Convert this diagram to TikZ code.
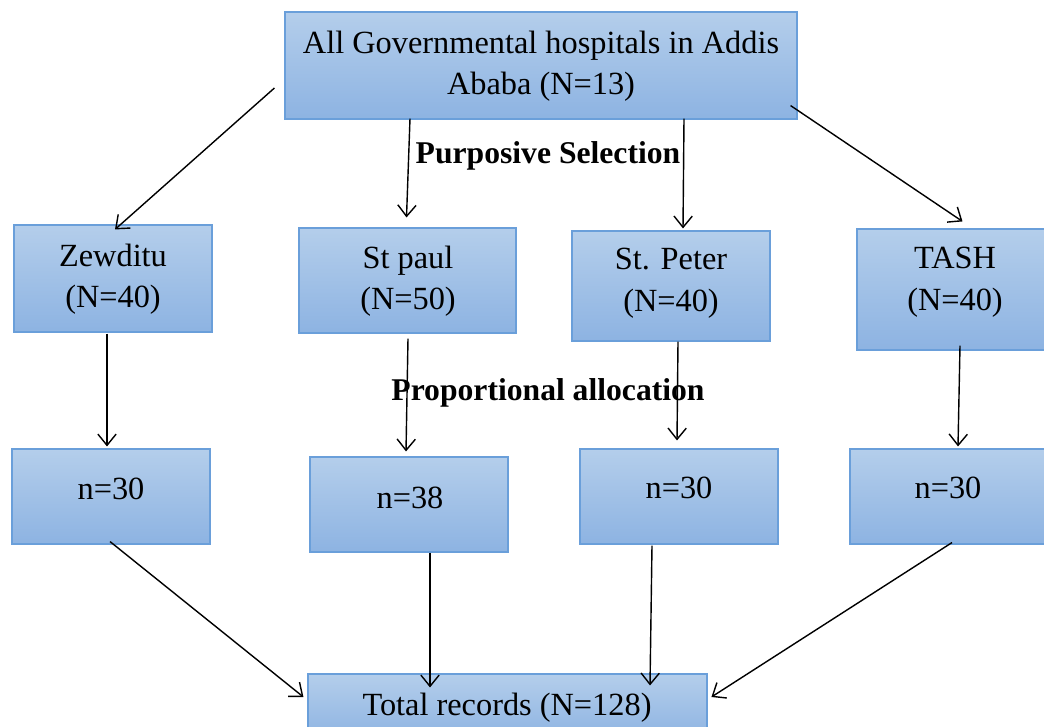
\documentclass[tikz,border=0pt]{standalone}
\usepackage{fontspec}
\setmainfont{Liberation Serif}
\usetikzlibrary{arrows.meta,fit,calc}
\definecolor{boxtop}{HTML}{B4CEEB}
\definecolor{boxbot}{HTML}{8DB3E2}
\definecolor{boxline}{HTML}{6A9FDA}
\tikzset{
  box/.style={draw=boxline,line width=0.8pt,top color=boxtop,bottom color=boxbot,inner sep=0pt,rectangle},
  txt/.style={align=center,font=\fontsize{23}{29.5}\selectfont,inner sep=0pt},
  lbl/.style={font=\fontsize{22.5}{26}\selectfont\bfseries,inner sep=0pt},
  arr/.style={draw=black,line width=1pt,-{Straight Barb[length=8pt,width=13pt,line width=1pt]}}
}
\begin{document}
\begin{tikzpicture}[x=0.025cm,y=-0.025cm]
\useasboundingbox (0,0) rectangle (1044,727);
% boxes
\node[box,fit={(285,12) (797,119)}] (top) {};
\node[box,fit={(14,225) (212,332)}] (zew) {};
\node[box,fit={(299,228) (516,333)}] (paul) {};
\node[box,fit={(572,231) (770,341)}] (peter) {};
\node[box,fit={(857,229) (1050,350)}] (tash) {};
\node[box,fit={(12,449) (210,544)}] (na) {};
\node[box,fit={(310,457) (508,552)}] (nb) {};
\node[box,fit={(580,449) (778,544)}] (nc) {};
\node[box,fit={(850,449) (1050,544)}] (nd) {};
\node[box,fit={(308,674) (707,740)}] (total) {};
% texts
\node[txt] (topt) at (541,66) {All Governmental hospitals in Addis\\Ababa (N=13)};
\node[txt] (zewt) at (113,279) {Zewditu\\(N=40)};
\node[txt] (pault) at (408,281) {St paul\\(N=50)};
\node[txt] (petert) at (671,283) {St. Peter\\(N=40)};
\node[txt] (tasht) at (955,282) {TASH\\(N=40)};
\node[txt] (nat) at (111,489) {n=30};
\node[txt] (nbt) at (410,498) {n=38};
\node[txt] (nct) at (679,488) {n=30};
\node[txt] (ndt) at (948,488) {n=30};
\node[txt] (totalt) at (507,708) {Total records (N=128)};
\node[lbl] (purp) at (548,156) {Purposive Selection};
\node[lbl] (prop) at (548,393) {Proportional allocation};
% arrows top -> hospitals
\draw[arr] ($(top.west)+(-10,22.5)$) -- ($(zew.north)+(2,5)$);
\draw[arr] ($(top.south)+(-131,-1)$) -- ($(paul.north)+(-1,-10)$);
\draw[arr] ($(top.south)+(143,-1)$) -- ($(peter.north)+(12,-2)$);
\draw[arr] ($(top.south east)+(-7,-14)$) -- ($(tash.north)+(9,-7)$);
% hospitals -> samples
\draw[arr] ($(zew.south)+(-6,1)$) -- ($(na.north)+(-4,-2)$);
\draw[arr] ($(paul.south)+(0.5,5)$) -- ($(nb.north)+(-3,-5)$);
\draw[arr] ($(peter.south)+(7,0)$) -- ($(nc.north)+(-2,-8)$);
\draw[arr] ($(tash.south)+(6.5,-5)$) -- ($(nd.north)+(8,-2)$);
% samples -> total
\draw[arr] ($(na.south)+(-1,-3)$) -- ($(total.west)+(-4,-10)$);
\draw[arr] ($(nb.south)+(21,0)$) -- ($(total.north)+(-77.5,14)$);
\draw[arr] ($(nc.south)+(-27,1)$) -- ($(total.north)+(142.5,12)$);
\draw[arr] ($(nd.south)+(2,-2)$) -- ($(total.west)+(404,-10)$);
\end{tikzpicture}
\end{document}
